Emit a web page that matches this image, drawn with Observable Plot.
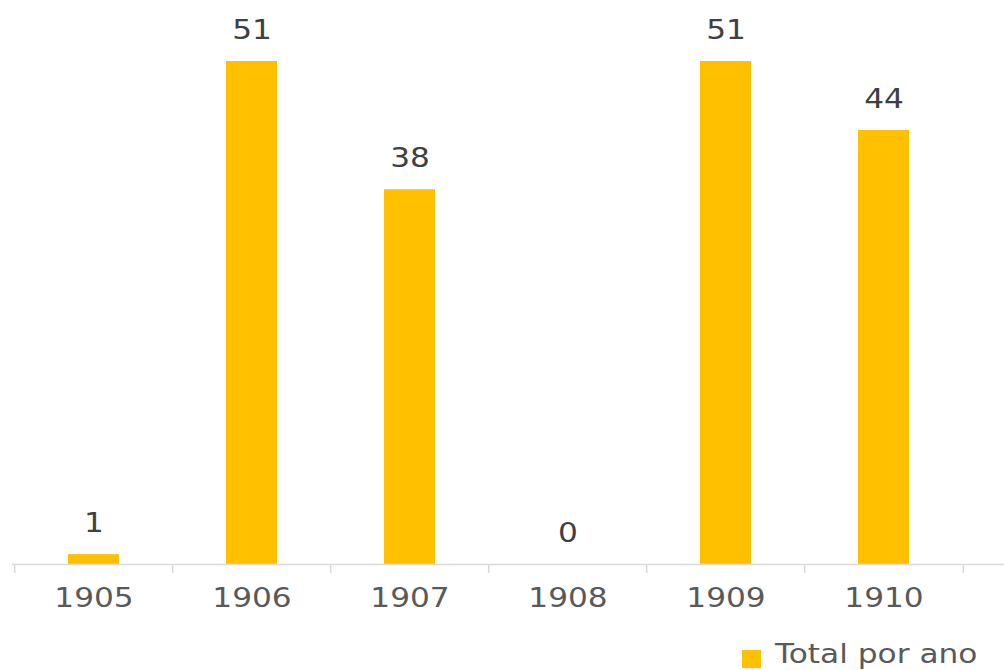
<!DOCTYPE html>
<html>
<head>
<meta charset="utf-8">
<script src="https://cdn.jsdelivr.net/npm/d3@7"></script>
<script src="https://cdn.jsdelivr.net/npm/@observablehq/plot@0.6"></script>
<style>
  html, body { margin: 0; padding: 0; background: #fff; overflow: hidden; }
  #wrap { position: relative; width: 1004px; height: 670px; }
  #legend { position: absolute; left: 742px; top: 639px; display: flex; align-items: center;
    font-family: "DejaVu Sans", sans-serif; font-size: 26px; color: #595959; white-space: nowrap; }
  #legend .sw { width: 19px; height: 18px; background: #FFC000; margin-right: 14px; margin-top: 10px; }
  #legend .lbl { display: inline-block; transform: scaleX(1.2); transform-origin: left center; }
</style>
</head>
<body>
<div id="wrap"></div>
<script>
const years = ["1905", "1906", "1907", "1908", "1909", "1910"];
const totals = [1, 51, 38, 0, 51, 44];
const seriesName = "Total por ano";
const barColor = "#FFC000";

const data = years.map((year, i) => ({year, value: totals[i]}));

const W = 1004, H = 640;
const x0 = 12, x1 = 964;
const step = (x1 - x0) / years.length;

const chart = Plot.plot({
  width: W,
  height: H,
  marginTop: 61,
  marginBottom: 76,
  marginLeft: 12,
  marginRight: 0,
  style: {fontFamily: "DejaVu Sans, sans-serif", color: "#595959", background: "#fff"},
  x: {domain: years, range: [x0, x1], paddingInner: 0.68, paddingOuter: 0.34, axis: null},
  y: {domain: [0, 51], axis: null},
  marks: [
    Plot.barY(data, {x: "year", y: "value", fill: barColor}),
    Plot.ruleY([0], {stroke: "#d9d9d9", strokeWidth: 1.5}),
    Plot.ruleX(years, {x: d => d, dx: -step / 2, y1: 0, y2: 0, insetTop: 9, stroke: "#d9d9d9", strokeWidth: 1.5}),
    Plot.ruleX(years.slice(-1), {x: d => d, dx: step / 2, y1: 0, y2: 0, insetTop: 9, stroke: "#d9d9d9", strokeWidth: 1.5}),
    Plot.text(data, {x: "year", y: "value", text: d => String(d.value), dy: -31, lineAnchor: "middle", fontSize: 26, fill: "#404040"}),
    Plot.text(years, {x: d => d, frameAnchor: "bottom", dy: 34, lineAnchor: "middle", fontSize: 26, fill: "#595959"})
  ]
});

// widen glyphs horizontally (reference text is horizontally stretched)
d3.select(chart).selectAll("text").each(function () {
  const t = this.getAttribute("transform") || "";
  this.setAttribute("transform", (t + " scale(1.2,1)").trim());
});

const wrap = document.getElementById("wrap");
wrap.appendChild(chart);
const legend = document.createElement("div");
legend.id = "legend";
legend.innerHTML = `<span class="sw"></span><span class="lbl">${seriesName}</span>`;
wrap.appendChild(legend);
</script>
</body>
</html>
